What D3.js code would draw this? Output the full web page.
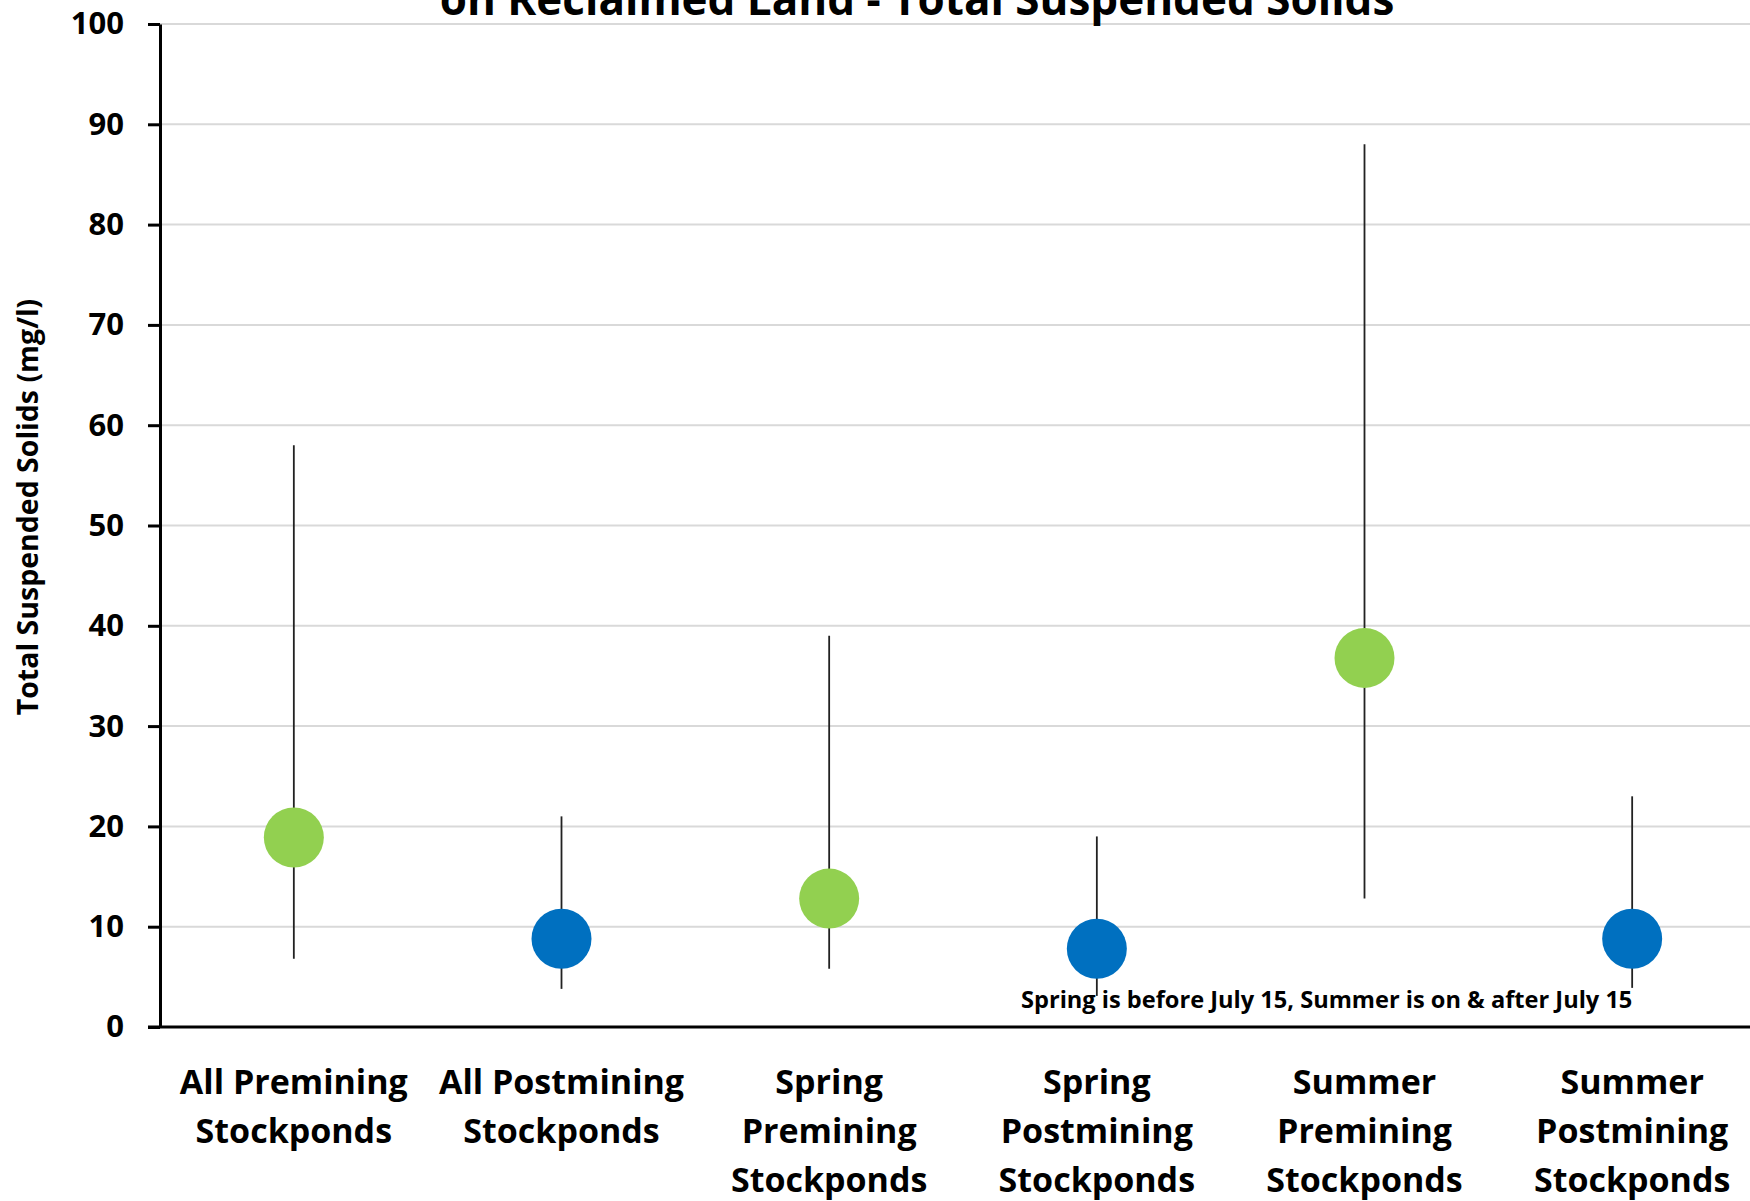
<!DOCTYPE html>
<html>
<head>
<meta charset="utf-8">
<script src="https://cdn.jsdelivr.net/npm/d3@7"></script>
<style>
  html, body { margin: 0; padding: 0; background: #fff; }
  svg { display: block; }
  text { font-family: "Open Sans", "DejaVu Sans", sans-serif; font-weight: 700; fill: #000; }
</style>
</head>
<body>
<svg id="chart" width="1750" height="1201"></svg>
<script>
// Stockpond groups and their label lines
const categories = [
  "All Premining Stockponds",
  "All Postmining Stockponds",
  "Spring Premining Stockponds",
  "Spring Postmining Stockponds",
  "Summer Premining Stockponds",
  "Summer Postmining Stockponds"
];
const labelLines = [
  ["All Premining", "Stockponds"],
  ["All Postmining", "Stockponds"],
  ["Spring", "Premining", "Stockponds"],
  ["Spring", "Postmining", "Stockponds"],
  ["Summer", "Premining", "Stockponds"],
  ["Summer", "Postmining", "Stockponds"]
];
const groupType = ["premining", "postmining", "premining", "postmining", "premining", "postmining"];

// Total suspended solids (mg/l): mean, maximum and minimum per group
const meanValues = [18.9, 8.8, 12.8, 7.8, 36.8, 8.8];
const maxValues  = [58, 21, 39, 19, 88, 23];
const minValues  = [6.8, 3.8, 5.8, 3.1, 12.8, 3.9];

const yTicks = [0, 10, 20, 30, 40, 50, 60, 70, 80, 90, 100];
const typeColors = { premining: "#92D050", postmining: "#0070C0" };

const titleText = "on Reclaimed Land - Total Suspended Solids";
const yTitle = "Total Suspended Solids (mg/l)";
const noteText = "Spring is before July 15, Summer is on & after July 15";

const svg = d3.select("#chart");
const W = 1750;

const x = d3.scaleBand().domain(categories).range([160, 1766]).padding(0);
const y = d3.scaleLinear().domain([0, 100]).range([1027, 24]);

// gridlines
svg.append("g")
  .selectAll("line")
  .data(yTicks.filter(t => t > 0))
  .join("line")
  .attr("x1", 160).attr("x2", W)
  .attr("y1", d => y(d)).attr("y2", d => y(d))
  .attr("stroke", "#d9d9d9").attr("stroke-width", 2);

// y axis
const yAxis = svg.append("g")
  .attr("transform", "translate(160,0)")
  .call(d3.axisLeft(y).tickValues(yTicks).tickSize(12).tickPadding(24).tickSizeOuter(0));
yAxis.select(".domain").attr("stroke", "#000").attr("stroke-width", 3);
yAxis.selectAll(".tick line").attr("stroke", "#000").attr("stroke-width", 3);
yAxis.selectAll(".tick text")
  .attr("font-size", 31).attr("font-family", "'Open Sans', sans-serif")
  .attr("font-weight", 700).attr("fill", "#000");

// x axis baseline
svg.append("line")
  .attr("x1", 148).attr("x2", W)
  .attr("y1", y(0)).attr("y2", y(0))
  .attr("stroke", "#000").attr("stroke-width", 3);

// category labels
const labels = svg.append("g").selectAll("text")
  .data(categories)
  .join("text")
  .attr("text-anchor", "middle")
  .attr("font-size", 34)
  .attr("x", d => x(d) + x.bandwidth() / 2);
labels.selectAll("tspan")
  .data((d, i) => labelLines[i])
  .join("tspan")
  .attr("x", function() { return this.parentNode.getAttribute("x"); })
  .attr("y", (d, i) => 1094 + i * 49)
  .text(d => d);

// note
svg.append("text")
  .attr("x", 1021).attr("y", 1008)
  .attr("font-size", 23.6)
  .text(noteText);

// range stems
svg.append("g").selectAll("line")
  .data(categories)
  .join("line")
  .attr("x1", d => x(d) + x.bandwidth() / 2)
  .attr("x2", d => x(d) + x.bandwidth() / 2)
  .attr("y1", (d, i) => y(maxValues[i]))
  .attr("y2", (d, i) => y(minValues[i]))
  .attr("stroke", "#222").attr("stroke-width", 1.8);

// mean markers
svg.append("g").selectAll("circle")
  .data(categories)
  .join("circle")
  .attr("cx", d => x(d) + x.bandwidth() / 2)
  .attr("cy", (d, i) => y(meanValues[i]))
  .attr("r", 30)
  .attr("fill", (d, i) => typeColors[groupType[i]]);

// title (second line, running off the top edge)
svg.append("text")
  .attr("x", 917).attr("y", 15)
  .attr("text-anchor", "middle")
  .attr("font-size", 44)
  .text(titleText);

// y axis title
svg.append("text")
  .attr("transform", "translate(38,507) rotate(-90)")
  .attr("text-anchor", "middle")
  .attr("font-size", 28.5)
  .text(yTitle);
</script>
</body>
</html>
